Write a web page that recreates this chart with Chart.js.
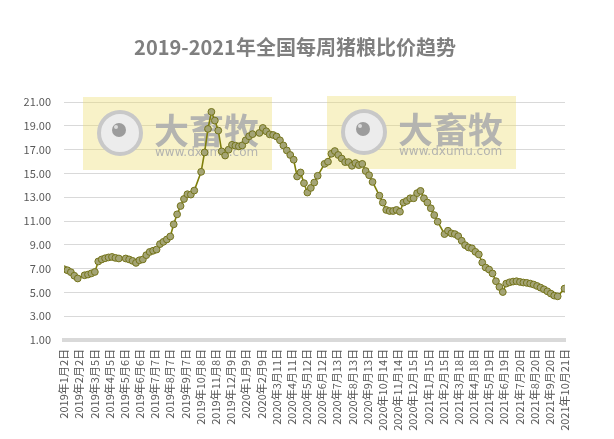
<!DOCTYPE html>
<html>
<head>
<meta charset="utf-8">
<script src="https://cdn.jsdelivr.net/npm/chart.js@4"></script>
<style>
    html, body { margin: 0; padding: 0; background: #fff; }
</style>
</head>
<body>
<canvas id="myChart" width="614" height="439"></canvas>
<script>
    const chartTitle = '2019-2021年全国每周猪粮比价趋势'

    // x axis labels, one every 31 days from 2019-01-02
    const tickLabels = [
        '2019年1月2日', '2019年2月2日', '2019年3月5日', '2019年4月5日', '2019年5月6日', '2019年6月6日',
        '2019年7月7日', '2019年8月7日', '2019年9月7日', '2019年10月8日', '2019年11月8日', '2019年12月9日',
        '2020年1月9日', '2020年2月9日', '2020年3月11日', '2020年4月11日', '2020年5月12日', '2020年6月12日',
        '2020年7月13日', '2020年8月13日', '2020年9月13日', '2020年10月14日', '2020年11月14日', '2020年12月15日',
        '2021年1月15日', '2021年2月15日', '2021年3月18日', '2021年4月18日', '2021年5月19日', '2021年6月19日',
        '2021年7月20日', '2021年8月20日', '2021年9月20日', '2021年10月21日'
    ]
    const tickStepDays = 31
    const weekDays = 7

    // weekly pig/grain price ratio, one value per week from 2019-01-02 (null = holiday week, no data)
    const pigGrainRatio = [
        6.95, 6.86, 6.7, 6.4, 6.17, null, 6.44, 6.5, 6.6, 6.72, 7.6, 7.77, 7.87, 7.94, 7.98, 7.9, 7.85, null,
        7.85, 7.77, 7.65, 7.48, 7.7, 7.77, 8.13, 8.4, 8.5, 8.6, 9.06, 9.25, 9.45, 9.7, 10.72, 11.56, 12.26,
        12.85, 13.25, 13.22, 13.56, null,
        15.13, 16.76, 18.74, 20.17, 19.44, 18.6, 16.85, 16.5, 16.99, 17.4, 17.33, 17.27, 17.35, 17.78, 18.12, 18.3, null,
        18.4, 18.82, 18.54, 18.28, 18.23, 18.1, 17.78, 17.35, 16.93, 16.55, 16.15, 14.74, 15.08, 14.18, 13.39,
        13.78, 14.23, 14.8, null,
        15.8, 15.98, 16.65, 16.88, 16.55, 16.25, 15.95, 15.95, 15.64, 15.87, 15.7, 15.8, 15.2, 14.85, 14.28, null,
        13.13, 12.55, 11.93, 11.84, 11.84, 11.93, 11.78, 12.55, 12.69, 12.91, 12.91, 13.34, 13.53, 12.91, 12.55,
        12.07, 11.5, 10.94, null,
        9.9, 10.18, 9.96, 9.9, 9.73, 9.34, 8.97, 8.78, 8.7, 8.41, 8.19, 7.51, 7.09, 6.92, 6.59, 5.94, 5.46, 5.03,
        5.74, 5.85, 5.91, 5.94, 5.88, 5.83, 5.8, 5.74, 5.66, 5.54, 5.4, 5.26, 5.09, 4.9, 4.73, 4.67, null,
        5.32
    ]

    const yTicks = { min: 1, max: 21, step: 2 }

    const labelFont = { family: '"Noto Sans CJK SC", "Noto Sans", sans-serif', size: 11 }
    const textGrey = '#595959'

    // site watermark boxes, drawn under the line
    const watermarkPlugin = {
        id: 'watermark',
        beforeDatasetsDraw(chart) {
            const ctx = chart.ctx
            ;[[83, 97], [327, 96]].forEach(([x, y]) => {
                ctx.save()
                ctx.fillStyle = 'rgba(236, 222, 110, 0.38)'
                ctx.fillRect(x, y, 189, 73)

                ctx.beginPath()
                ctx.arc(x + 37, y + 36, 21, 0, Math.PI * 2)
                ctx.fillStyle = '#ececec'
                ctx.fill()
                ctx.lineWidth = 4
                ctx.strokeStyle = '#c8c8c8'
                ctx.stroke()
                ctx.beginPath()
                ctx.arc(x + 36, y + 33, 7, 0, Math.PI * 2)
                ctx.fillStyle = '#9c9c9c'
                ctx.fill()
                ctx.beginPath()
                ctx.arc(x + 33, y + 30, 2, 0, Math.PI * 2)
                ctx.fillStyle = '#dcdcdc'
                ctx.fill()

                ctx.fillStyle = '#b4b4b0'
                ctx.font = 'bold 35px "Noto Sans CJK SC"'
                ctx.textBaseline = 'alphabetic'
                ctx.fillText('大畜牧', x + 71, y + 47)
                ctx.font = '12px "DejaVu Sans"'
                ctx.fillText('www.dxumu.com', x + 72, y + 59)
                ctx.restore()
            })
        }
    }

    const data = {
        datasets: [{
            label: '猪粮比价',
            data: pigGrainRatio.map((v, i) => ({ x: i * weekDays, y: v })),
            spanGaps: true,
            borderColor: '#7f7f0a',
            borderWidth: 1.6,
            pointRadius: 3.4,
            pointBorderWidth: 1,
            pointBackgroundColor: '#a4a475',
            pointBorderColor: '#74741a',
            tension: 0
        }]
    }

    const config = {
        type: 'line',
        data,
        options: {
            responsive: false,
            animation: false,
            devicePixelRatio: 1,
            layout: { padding: { left: 0, right: 24, top: 0, bottom: 0 } },
            plugins: {
                legend: { display: false },
                tooltip: { enabled: false },
                title: {
                    display: true,
                    text: chartTitle,
                    color: '#7f7f7f',
                    font: { family: '"Noto Sans CJK SC", sans-serif', size: 20, weight: 'bold' },
                    padding: { top: 35, bottom: 43 }
                }
            },
            scales: {
                x: {
                    type: 'linear',
                    min: 0,
                    max: tickStepDays * (tickLabels.length - 1),
                    afterBuildTicks: scale => {
                        scale.ticks = tickLabels.map((t, k) => ({ value: k * tickStepDays }))
                    },
                    afterFit: scale => {
                        scale.height = 99
                        scale.paddingRight = 49
                    },
                    grid: { display: false, drawTicks: false },
                    border: { display: true, color: '#d9d9d9', width: 4 },
                    ticks: {
                        autoSkip: false,
                        minRotation: 90,
                        maxRotation: 90,
                        padding: 9,
                        color: textGrey,
                        font: labelFont,
                        callback: (value, index) => tickLabels[index]
                    }
                },
                y: {
                    min: yTicks.min,
                    max: yTicks.max,
                    afterFit: scale => { scale.width = 64 },
                    grid: { color: '#d9d9d9', lineWidth: 1, drawTicks: false },
                    border: { display: false },
                    ticks: {
                        stepSize: yTicks.step,
                        padding: 13,
                        color: textGrey,
                        font: labelFont,
                        callback: v => v.toFixed(2)
                    }
                }
            }
        },
        plugins: [watermarkPlugin]
    }

    const myChart = new Chart(document.getElementById('myChart'), config)
</script>
</body>
</html>
